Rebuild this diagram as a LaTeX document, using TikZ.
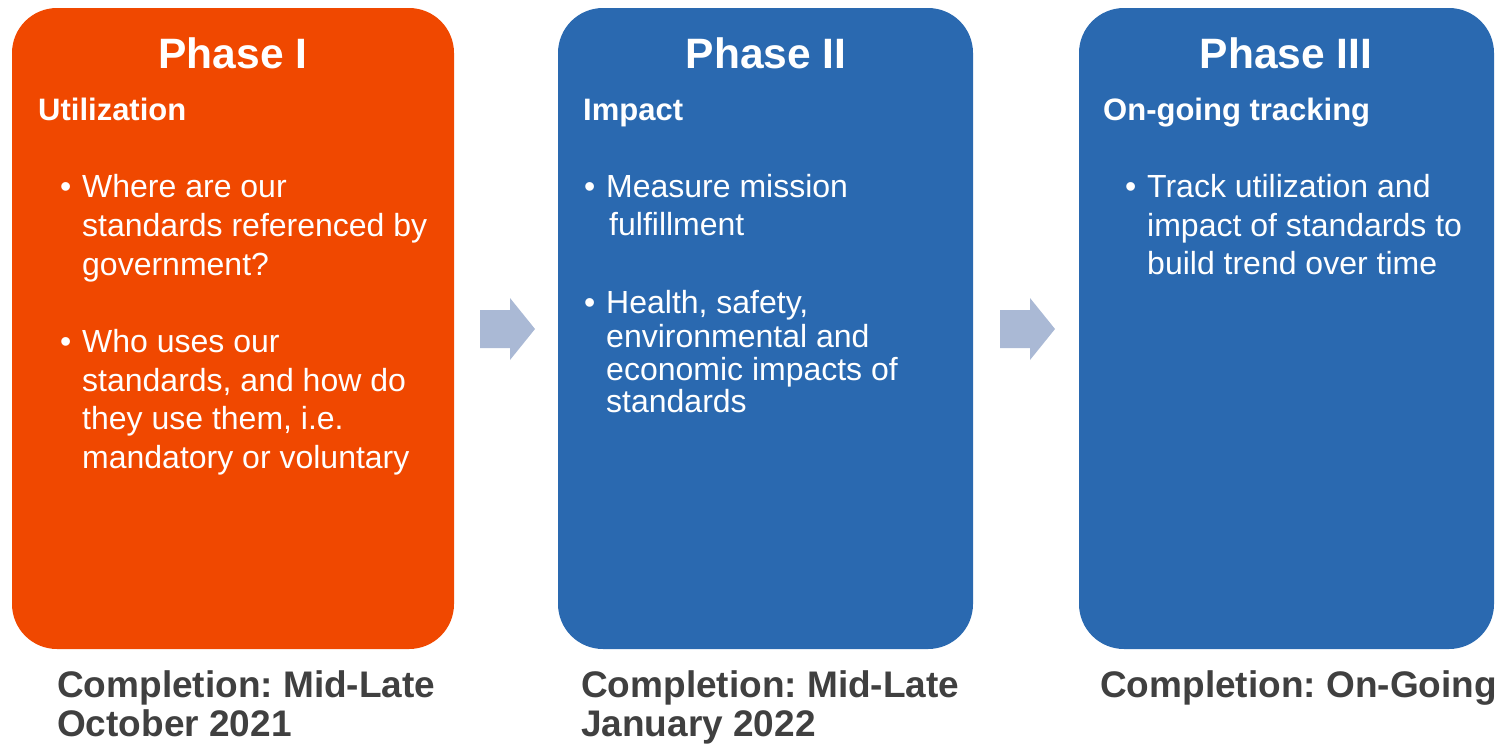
\documentclass[tikz,border=0pt]{standalone}
\usepackage{fontspec}
\setmainfont{Liberation Sans}
\frenchspacing
\definecolor{phorange}{RGB}{240,72,0}
\definecolor{phblue}{RGB}{42,105,176}
\definecolor{arrowgray}{RGB}{170,185,213}
\definecolor{darktxt}{RGB}{64,64,64}
\tikzset{
  phasebox/.style={rounded corners=45pt},
  ttl/.style={inner sep=0pt, anchor=base, text=white, font=\fontsize{42.5}{50}\selectfont\bfseries},
  hdr/.style={inner sep=0pt, anchor=base west, text=white, font=\fontsize{31}{37}\selectfont\bfseries},
  bodytxt/.style={inner sep=0pt, anchor=base west, text=white, font=\fontsize{32}{38}\selectfont},
  comptext/.style={inner sep=0pt, anchor=base west, text=darktxt, font=\fontsize{37}{44}\selectfont\bfseries},
  flowarrow/.style={fill=arrowgray, draw=none}
}
\begin{document}
\begin{tikzpicture}[x=1pt,y=-1pt]
\useasboundingbox (0,0) rectangle (1501,745);
% boxes
\fill[phorange, phasebox] (12,8) rectangle (454,649);
\fill[phblue, phasebox] (558,8) rectangle (973,649);
\fill[phblue, phasebox] (1079,8) rectangle (1494,649);
% arrows
\fill[flowarrow] (480,310) -- (510,310) -- (510,298) -- (535,329) -- (510,360) -- (510,348) -- (480,348) -- cycle;
\fill[flowarrow] (1000,310) -- (1030,310) -- (1030,298) -- (1055,329) -- (1030,360) -- (1030,348) -- (1000,348) -- cycle;
% titles
\node[ttl] (t1) at (233,68) {Phase I};
\node[ttl] (t2) at (766,68) {Phase II};
\node[ttl] (t3) at (1286,68) {Phase III};
% headers
\node[hdr] (h1) at (38,120) {Utilization};
\node[hdr] (h2) at (583,120) {Impact};
\node[hdr] (h3) at (1103,120) {On-going tracking};
% box 1
\node[bodytxt] (b1a) at (60,197) {•};
\node[bodytxt] (l1a) at (82,197) {Where are our};
\node[bodytxt] (l1b) at (82,236) {standards referenced by};
\node[bodytxt] (l1c) at (82,275) {government?};
\node[bodytxt] (b1b) at (60,352) {•};
\node[bodytxt] (l1d) at (82,352) {Who uses our};
\node[bodytxt] (l1e) at (82,391) {standards, and how do};
\node[bodytxt] (l1f) at (82,429) {they use them, i.e.};
\node[bodytxt] (l1g) at (82,468) {mandatory or voluntary};
% box 2
\node[bodytxt] (b2a) at (584,197) {•};
\node[bodytxt] (l2a) at (606,197) {Measure mission};
\node[bodytxt] (l2b) at (609,235) {fulfillment};
\node[bodytxt] (b2b) at (584,313) {•};
\node[bodytxt] (l2c) at (606,313) {Health, safety,};
\node[bodytxt] (l2d) at (606,347) {environmental and};
\node[bodytxt] (l2e) at (606,380) {economic impacts of};
\node[bodytxt] (l2f) at (606,412) {standards};
% box 3
\node[bodytxt] (b3a) at (1125,197) {•};
\node[bodytxt] (l3a) at (1147,197) {Track utilization and};
\node[bodytxt] (l3b) at (1147,236) {impact of standards to};
\node[bodytxt] (l3c) at (1147,274) {build trend over time};
% completion
\node[comptext] (c1a) at (57,697) {Completion: Mid-Late};
\node[comptext] (c1b) at (57,736) {October 2021};
\node[comptext] (c2a) at (581,697) {Completion: Mid-Late};
\node[comptext] (c2b) at (581,736) {January 2022};
\node[comptext] (c3a) at (1100,697) {Completion: On-Going};
\end{tikzpicture}
\end{document}
